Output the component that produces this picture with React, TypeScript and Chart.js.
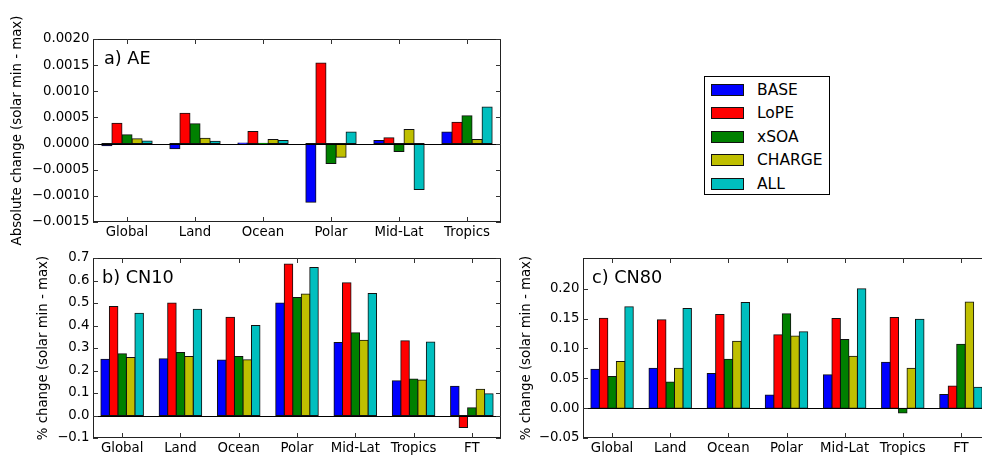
import React, { useEffect, useRef } from 'react';
import { Chart, registerables } from 'chart.js';
Chart.register(...registerables);

const FONT = 'DejaVu Sans';

const SERIES = ['BASE', 'LoPE', 'xSOA', 'CHARGE', 'ALL'];
const COLORS = ['#0000ff', '#ff0000', '#008000', '#bfbf00', '#00bfbf'];

const CAT_A = ['Global', 'Land', 'Ocean', 'Polar', 'Mid-Lat', 'Tropics'];
const CAT_BC = ['Global', 'Land', 'Ocean', 'Polar', 'Mid-Lat', 'Tropics', 'FT'];

// a) AE (absolute change)
const AE_BASE = [-0.00004, -0.0001, 0.00001, -0.00112, 0.00006, 0.00022];
const AE_LOPE = [0.00039, 0.00058, 0.00023, 0.00154, 0.00011, 0.00041];
const AE_XSOA = [0.00017, 0.00038, 0.000005, -0.00038, -0.00015, 0.00053];
const AE_CHARGE = [0.00009, 0.0001, 0.00008, -0.00026, 0.00027, 0.00008];
const AE_ALL = [0.00005, 0.000045, 0.00006, 0.00022, -0.00088, 0.0007];

// b) CN10 (% change)
const CN10_BASE = [0.25, 0.252, 0.247, 0.5, 0.325, 0.155, 0.13];
const CN10_LOPE = [0.485, 0.5, 0.437, 0.673, 0.59, 0.332, -0.053];
const CN10_XSOA = [0.275, 0.28, 0.262, 0.525, 0.368, 0.162, 0.035];
const CN10_CHARGE = [0.258, 0.262, 0.248, 0.54, 0.335, 0.158, 0.117];
const CN10_ALL = [0.454, 0.472, 0.4, 0.658, 0.542, 0.327, 0.097];

// c) CN80 (% change)
const CN80_BASE = [0.065, 0.067, 0.058, 0.022, 0.056, 0.077, 0.023];
const CN80_LOPE = [0.1506, 0.148, 0.157, 0.123, 0.15, 0.152, 0.037];
const CN80_XSOA = [0.053, 0.044, 0.082, 0.158, 0.115, -0.008, 0.107];
const CN80_CHARGE = [0.078, 0.067, 0.112, 0.121, 0.087, 0.067, 0.178];
const CN80_ALL = [0.17, 0.167, 0.177, 0.128, 0.2, 0.149, 0.035];

const TICKS_A = [-0.0015, -0.001, -0.0005, 0, 0.0005, 0.001, 0.0015, 0.002];
const TICKS_B = [-0.1, 0, 0.1, 0.2, 0.3, 0.4, 0.5, 0.6, 0.7];
const TICKS_C = [-0.05, 0, 0.05, 0.1, 0.15, 0.2];

const TITLE_A = 'a) AE';
const TITLE_B = 'b) CN10';
const TITLE_C = 'c) CN80';
const YLABEL_A = 'Absolute change (solar min - max)';
const YLABEL_BC = '% change (solar min - max)';

function fmt(v: number, d: number) {
  const x = Math.abs(v) < 1e-12 ? 0 : v;
  const s = x.toFixed(d);
  return s.startsWith('-') ? '\u2212' + s.slice(1) : s;
}

type PanelCfg = {
  left: number; top: number; width: number; height: number;
  labels: string[]; data: number[][];
  yMin: number; yMax: number; yTicks: number[]; decimals: number;
  padTop: number; padRight: number; yAxisWidth: number; xAxisHeight: number;
  title: string; titleDx: number; titleDy: number;
  yLabel: string; yLabelX: number; catPct: number;
};

function decor(p: PanelCfg) {
  return {
    id: 'decor',
    afterDatasetsDraw(chart: any) {
      const { ctx, chartArea: ca, scales } = chart;
      const xs = scales.x, ys = scales.y;
      ctx.save();
      // zero line
      const y0 = Math.round(ys.getPixelForValue(0)) + 0.5;
      ctx.strokeStyle = '#000';
      ctx.lineWidth = 1;
      ctx.beginPath();
      ctx.moveTo(ca.left, y0);
      ctx.lineTo(ca.right, y0);
      ctx.stroke();
      // frame
      ctx.strokeStyle = '#222';
      ctx.strokeRect(ca.left + 0.5, ca.top + 0.5, ca.right - ca.left - 1, ca.bottom - ca.top - 1);
      // inward ticks
      ctx.strokeStyle = '#333';
      ctx.beginPath();
      p.yTicks.forEach((v) => {
        const py = Math.round(ys.getPixelForValue(v)) + 0.5;
        ctx.moveTo(ca.left, py); ctx.lineTo(ca.left + 5, py);
        ctx.moveTo(ca.right, py); ctx.lineTo(ca.right - 5, py);
      });
      p.labels.forEach((_, i) => {
        const px = Math.round(xs.getPixelForValue(i)) + 0.5;
        ctx.moveTo(px, ca.bottom); ctx.lineTo(px, ca.bottom - 5);
        ctx.moveTo(px, ca.top); ctx.lineTo(px, ca.top + 5);
      });
      ctx.stroke();
      // panel title
      ctx.fillStyle = '#000';
      ctx.font = `17.7px "${FONT}"`;
      ctx.textAlign = 'left';
      ctx.textBaseline = 'middle';
      ctx.fillText(p.title, ca.left + p.titleDx, ca.top + p.titleDy);
      // y-axis label
      ctx.font = `13.3px "${FONT}"`;
      ctx.textAlign = 'center';
      ctx.translate(p.yLabelX, (ca.top + ca.bottom) / 2);
      ctx.rotate(-Math.PI / 2);
      ctx.fillText(p.yLabel, 0, 0);
      ctx.restore();
    },
  };
}

function Panel({ p }: { p: PanelCfg }) {
  const ref = useRef<HTMLCanvasElement>(null);
  useEffect(() => {
    const chart = new Chart(ref.current as HTMLCanvasElement, {
      type: 'bar',
      data: {
        labels: p.labels,
        datasets: p.data.map((d, i) => ({
          label: SERIES[i],
          data: d,
          backgroundColor: COLORS[i],
          borderColor: '#111',
          borderWidth: 1,
          borderSkipped: false,
          inflateAmount: 0.5,
          categoryPercentage: p.catPct,
          barPercentage: 1,
        })),
      },
      options: {
        animation: false,
        responsive: false,
        events: [],
        layout: { padding: { left: 0, top: p.padTop, right: p.padRight, bottom: 0 } },
        plugins: { legend: { display: false }, tooltip: { enabled: false } },
        scales: {
          x: {
            grid: { display: false, drawTicks: false },
            border: { display: false },
            ticks: { font: { family: FONT, size: 13.3 }, color: '#000', padding: 3, maxRotation: 0, autoSkip: false },
            afterFit: (s: any) => { s.height = p.xAxisHeight; },
          },
          y: {
            min: p.yMin,
            max: p.yMax,
            grid: { display: false, drawTicks: false },
            border: { display: false },
            afterBuildTicks: (s: any) => { s.ticks = p.yTicks.map((v) => ({ value: v })); },
            ticks: {
              font: { family: FONT, size: 13.3 },
              color: '#000',
              padding: 3.5,
              callback: (v: any) => fmt(Number(v), p.decimals),
            },
            afterFit: (s: any) => { s.width = p.yAxisWidth; },
          },
        },
      } as any,
      plugins: [decor(p)],
    });
    return () => chart.destroy();
  }, []);
  return (
    <canvas
      ref={ref}
      width={p.width}
      height={p.height}
      style={{ position: 'absolute', left: p.left, top: p.top, width: p.width, height: p.height }}
    />
  );
}

const PANEL_A: PanelCfg = {
  left: 0, top: 0, width: 520, height: 256,
  labels: CAT_A, data: [AE_BASE, AE_LOPE, AE_XSOA, AE_CHARGE, AE_ALL],
  yMin: -0.0015, yMax: 0.002, yTicks: TICKS_A, decimals: 4,
  padTop: 39, padRight: 19, yAxisWidth: 93, xAxisHeight: 34,
  title: TITLE_A, titleDx: 11, titleDy: 20.5, yLabel: YLABEL_A, yLabelX: 18, catPct: 0.74,
};

const PANEL_B: PanelCfg = {
  left: 0, top: 240, width: 520, height: 216,
  labels: CAT_BC, data: [CN10_BASE, CN10_LOPE, CN10_XSOA, CN10_CHARGE, CN10_ALL],
  yMin: -0.1, yMax: 0.7, yTicks: TICKS_B, decimals: 1,
  padTop: 18, padRight: 19, yAxisWidth: 93, xAxisHeight: 18,
  title: TITLE_B, titleDx: 9, titleDy: 20, yLabel: YLABEL_BC, yLabelX: 44, catPct: 0.73,
};

const PANEL_C: PanelCfg = {
  left: 500, top: 240, width: 500, height: 216,
  labels: CAT_BC, data: [CN80_BASE, CN80_LOPE, CN80_XSOA, CN80_CHARGE, CN80_ALL],
  yMin: -0.05, yMax: 0.2515, yTicks: TICKS_C, decimals: 2,
  padTop: 18, padRight: 10, yAxisWidth: 83, xAxisHeight: 18,
  title: TITLE_C, titleDx: 9, titleDy: 20, yLabel: YLABEL_BC, yLabelX: 27, catPct: 0.73,
};

function Legend() {
  return (
    <div style={{ position: 'absolute', left: 704, top: 76, width: 124, height: 117, border: '1px solid #000', background: '#fff' }}>
      {SERIES.map((s, i) => (
        <div key={s} style={{ position: 'absolute', left: 0, top: 12.5 + i * 23.5 - 9, height: 18, width: 124 }}>
          <div style={{ position: 'absolute', left: 6, top: 3, width: 31, height: 10, background: COLORS[i], border: '1px solid #111' }} />
          <div style={{ position: 'absolute', left: 52, top: -1, fontFamily: FONT, fontSize: 15.5, lineHeight: '20px', color: '#000', whiteSpace: 'nowrap' }}>{s}</div>
        </div>
      ))}
    </div>
  );
}

export default function App() {
  return (
    <div style={{ position: 'absolute', left: 0, top: 0, width: 982, height: 456, overflow: 'hidden', background: '#fff' }}>
      <Panel p={PANEL_A} />
      <Panel p={PANEL_B} />
      <Panel p={PANEL_C} />
      <Legend />
    </div>
  );
}
